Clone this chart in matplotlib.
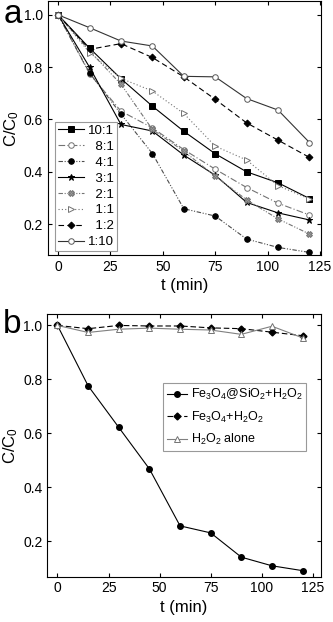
import numpy as np
import matplotlib.pyplot as plt

# sampling times (min)
t = [0, 15, 30, 45, 60, 75, 90, 105, 120]

# panel a: mass ratios (figure space keeps labels right-aligned)
ratios = ['10:1', '\u20078:1', '\u20074:1', '\u20073:1', '\u20072:1', '\u20071:1', '\u20071:2', '1:10']
r_10_1 = [1.0, 0.873, 0.756, 0.651, 0.555, 0.469, 0.400, 0.358, 0.298]
r_8_1 = [1.0, 0.775, 0.632, 0.568, 0.485, 0.410, 0.340, 0.280, 0.235]
r_4_1 = [1.0, 0.778, 0.621, 0.470, 0.259, 0.231, 0.143, 0.111, 0.092]
r_3_1 = [1.0, 0.800, 0.581, 0.556, 0.464, 0.387, 0.283, 0.243, 0.216]
r_2_1 = [1.0, 0.862, 0.735, 0.562, 0.479, 0.383, 0.293, 0.220, 0.162]
r_1_1 = [1.0, 0.856, 0.757, 0.709, 0.623, 0.498, 0.445, 0.347, 0.296]
r_1_2 = [1.0, 0.868, 0.890, 0.837, 0.763, 0.677, 0.587, 0.521, 0.455]
r_1_10 = [1.0, 0.951, 0.900, 0.881, 0.765, 0.763, 0.680, 0.636, 0.512]

# panel b: controls
b_labels = ['Fe$_3$O$_4$@SiO$_2$+H$_2$O$_2$', 'Fe$_3$O$_4$+H$_2$O$_2$', 'H$_2$O$_2$ alone']
b_core_shell = [1.0, 0.776, 0.622, 0.468, 0.257, 0.231, 0.141, 0.109, 0.091]
b_fe3o4 = [1.0, 0.988, 1.0, 0.998, 0.998, 0.991, 0.988, 0.975, 0.962]
b_h2o2 = [1.0, 0.974, 0.986, 0.990, 0.986, 0.983, 0.967, 0.997, 0.954]

plt.rcParams['font.family'] = ['Liberation Sans', 'DejaVu Sans']
plt.rcParams['mathtext.fontset'] = 'custom'
plt.rcParams['mathtext.rm'] = 'Liberation Sans'
plt.rcParams['mathtext.it'] = 'Liberation Sans'

fig = plt.figure(figsize=(3.33, 6.22), dpi=100)
ax1 = fig.add_axes([0.143, 0.590, 0.821, 0.408])
ax2 = fig.add_axes([0.142, 0.073, 0.822, 0.422])

g = '0.45'
styles = [
    dict(color='k', ls='-', marker='s', mfc='k', mec='k'),
    dict(color=g, ls=(0, (6, 2, 1, 2)), marker='o', mfc='white', mec=g),
    dict(color='0.3', ls=(0, (4, 1.5, 1, 1.5, 1, 1.5)), marker='o', mfc='k', mec='k'),
    dict(color='k', ls='-', marker='*', mfc='k', mec='k'),
    dict(color=g, ls=(0, (4, 1.5, 1, 1.5, 1, 1.5)), marker='X', mfc='0.6', mec=g),
    dict(color=g, ls=(0, (1, 2)), marker='>', mfc='white', mec=g),
    dict(color='k', ls=(0, (5, 3)), marker='D', mfc='k', mec='k'),
    dict(color='0.2', ls='-', marker='o', mfc='white', mec='0.35'),
]
series_a = [r_10_1, r_8_1, r_4_1, r_3_1, r_2_1, r_1_1, r_1_2, r_1_10]
for lab, ys, st in zip(ratios, series_a, styles):
    ms = 5 if st['marker'] == '*' else 4
    if st['marker'] == 'D':
        ms = 3.5
    ax1.plot(t, ys, label=lab, lw=0.8, ms=ms, mew=0.7, **st)

ax2.plot(t, b_core_shell, color='k', ls='-', marker='o', ms=4, lw=0.8, label=b_labels[0])
ax2.plot(t, b_fe3o4, color='k', ls=(0, (5, 2.5)), marker='D', ms=3.5, lw=0.8, label=b_labels[1])
ax2.plot(t, b_h2o2, color='0.5', ls='-', marker='^', mfc='white', mec='0.45', ms=4.5,
         mew=0.7, lw=0.8, label=b_labels[2])

for ax in (ax1, ax2):
    ax.set_xticks([0, 25, 50, 75, 100, 125])
    ax.set_yticks([0.2, 0.4, 0.6, 0.8, 1.0])
    ax.tick_params(direction='in', top=True, right=True, labelsize=10, length=3, width=0.8)
    ax.set_xlabel('t (min)', fontsize=12, labelpad=3)
    ax.set_ylabel('C/C$_0$', fontsize=12, labelpad=2)
    for sp in ax.spines.values():
        sp.set_linewidth(0.8)
    ax.yaxis.set_major_formatter(plt.FormatStrFormatter('%.1f'))

ax1.set_xlim(-5, 125.5)
ax1.set_ylim(0.082, 1.052)
ax2.set_xlim(-5, 129)
ax2.set_ylim(0.069, 1.042)

leg1 = ax1.legend(loc='lower left', bbox_to_anchor=(0.027, 0.016), fontsize=9.5, frameon=True,
                  fancybox=False, edgecolor='0.5', handlelength=2.0, handletextpad=0.3,
                  labelspacing=0.28, borderpad=0.2, borderaxespad=0)
leg1.get_frame().set_linewidth(0.8)

leg2 = ax2.legend(loc='upper right', bbox_to_anchor=(0.946, 0.737), fontsize=9, frameon=True,
                  fancybox=False, edgecolor='0.5', handlelength=1.6, handletextpad=0.3,
                  labelspacing=0.6, borderpad=0.3, borderaxespad=0)
leg2.get_frame().set_linewidth(0.8)

fig.text(0.01, 0.977, 'a', fontsize=24, va='center')
fig.text(0.01, 0.478, 'b', fontsize=24, va='center')

fig.savefig('out.png', dpi=100)
